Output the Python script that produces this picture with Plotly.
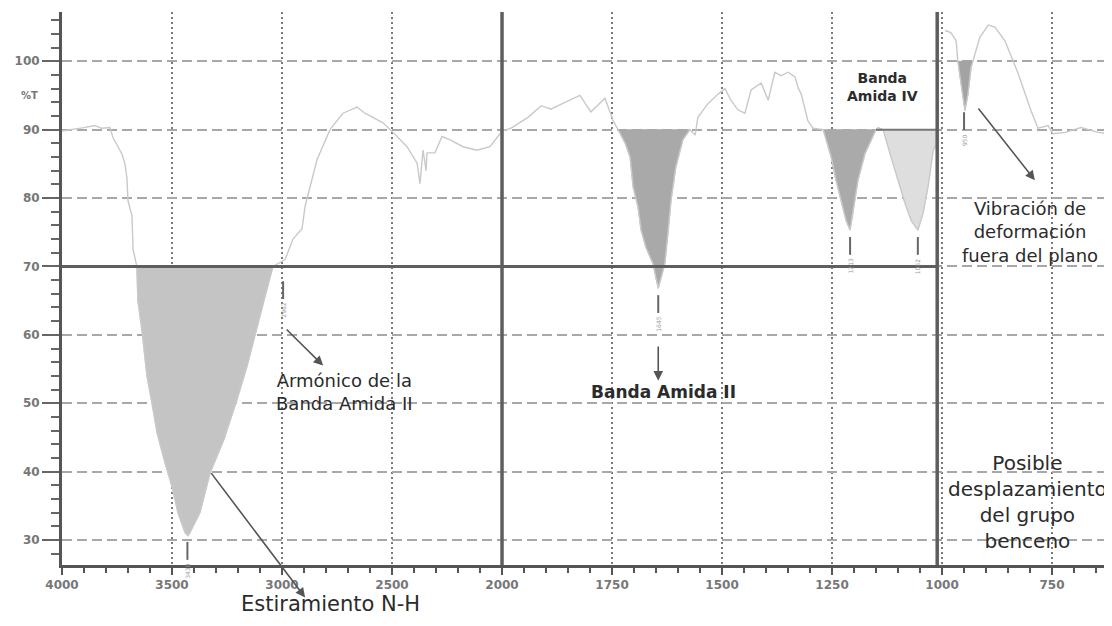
import numpy as np
import plotly.graph_objects as go

# ---------------- data ----------------
wavenumber = [4000, 3950, 3900, 3850, 3820, 3782, 3768, 3727, 3714, 3705, 3700, 3682, 3677, 3660,
              3655, 3636, 3614, 3591, 3568, 3532, 3500, 3473, 3441, 3427, 3418, 3373, 3327, 3264,
              3205, 3159, 3114, 3082, 3041,
              2986, 2950, 2909, 2895, 2841, 2782, 2723, 2659, 2623, 2541, 2495, 2432, 2386, 2373,
              2359, 2345, 2341, 2305, 2273, 2236, 2177, 2114, 2055, 2009, 2000,
              1980, 1941, 1911, 1889, 1857, 1834, 1823, 1798, 1766, 1748, 1736,
              1720, 1709, 1702, 1691, 1684, 1673, 1657, 1645, 1630, 1623, 1616, 1605, 1589, 1573,
              1561, 1555, 1532, 1509, 1493, 1480, 1464, 1448, 1434, 1411, 1395, 1380, 1366, 1350,
              1334, 1327, 1320, 1305, 1293, 1270,
              1252, 1241, 1230, 1218, 1209, 1202, 1191, 1175, 1150, 1145, 1134,
              1116, 1100, 1084, 1070, 1055, 1043, 1032, 1020, 1011, 1005,
              993, 980, 968, 964, 959, 952, 948, 941, 934, 930, 914, 895, 880, 857, 827, 798,
              782, 759, 748, 720, 684, 645, 618]
transmittance = [89.8, 90.0, 90.3, 90.6, 90.2, 90.3, 88.8, 86.4, 85.0, 83.0, 79.6, 77.4, 72.5, 70.0,
                 65.0, 60.5, 54.0, 50.0, 45.7, 41.3, 37.8, 34.0, 31.1, 30.6, 31.1, 34.0, 39.8, 44.7,
                 50.5, 55.4, 61.2, 65.0, 70.0,
                 71.0, 74.0, 75.5, 78.8, 85.6, 90.0, 92.4, 93.3, 92.4, 91.0, 89.6, 87.5, 85.1, 82.1,
                 87.0, 84.0, 86.6, 86.6, 89.0, 88.5, 87.5, 87.0, 87.5, 89.4, 89.8,
                 90.2, 91.8, 93.5, 93.0, 94.0, 94.7, 95.0, 92.6, 94.6, 91.4, 90.0,
                 88.0, 86.0, 81.6, 78.7, 75.3, 72.8, 70.4, 66.8, 70.4, 74.8, 79.6, 84.5, 88.5, 90.0,
                 89.2, 91.8, 93.8, 95.2, 96.0, 94.3, 92.9, 92.4, 95.8, 96.8, 94.3, 98.4, 97.9, 98.4,
                 97.7, 96.1, 95.2, 91.3, 90.2, 90.0,
                 86.0, 82.6, 79.6, 76.7, 75.3, 78.2, 82.6, 86.5, 90.0, 90.3, 90.0,
                 86.0, 82.6, 79.2, 76.7, 75.3, 77.8, 81.6, 87.0, 88.0, None,
                 104.5, 104.2, 103.0, 100.0, 97.7, 94.3, 92.8, 95.2, 99.1, 100.0, 103.5, 105.3, 105.0,
                 103.0, 98.2, 92.8, 90.2, 90.6, 89.4, 89.6, 90.3, 89.6, 89.4]

# shaded bands: wavenumber limits and reference level
band_hi = [3660, 1736, 1270, 1134, 964]
band_lo = [3041, 1573, 1150, 1011, 930]
band_base = [70, 90, 90, 90, 100]
band_color = ["#c4c4c4", "#a9a9a9", "#aaaaaa", "#dedede", "#a3a3a3"]

# labelled peaks
peak_w = [3430, 2995, 1645, 1209, 1055, 950]
peak_text = ["3430", "2962", "1645", "1213", "1052", "950"]

major_w = [4000, 3500, 3000, 2500, 2000, 1750, 1500, 1250, 1000, 750]
y_ticks = [30, 40, 50, 60, 70, 80, 90, 100]


# two-scale IR axis: 4000-2000 (500/unit), 2000-... (250/unit)
def pos(w):
    w = np.asarray(w, dtype=float)
    return np.where(w >= 2000, (4000 - w) / 500.0, 4 + (2000 - w) / 250.0)


w_arr = np.array(wavenumber, dtype=float)
t_arr = np.array([np.nan if v is None else v for v in transmittance])

fig = go.Figure()

# fills
for lo, hi, base, col in zip(band_lo, band_hi, band_base, band_color):
    m = (w_arr <= hi) & (w_arr >= lo) & ~np.isnan(t_arr)
    xs = list(pos(w_arr[m]))
    ys = list(np.minimum(t_arr[m], base))
    fig.add_trace(go.Scatter(x=xs + [xs[-1], xs[0]], y=ys + [base, base], fill="toself",
                             fillcolor=col, line=dict(width=0.8, color=col), mode="lines",
                             hoverinfo="skip", showlegend=False))

# spectrum
fig.add_trace(go.Scatter(x=pos(w_arr), y=[None if np.isnan(v) else v for v in t_arr],
                         mode="lines", line=dict(color="#c9c9c9", width=1.4),
                         connectgaps=False, showlegend=False))

shapes = []
# reference lines
x_split = float(pos(1011))
shapes.append(dict(type="line", xref="x", yref="y", x0=0, x1=x_split, y0=70, y1=70,
                   line=dict(color="#5e5e5e", width=3)))
shapes.append(dict(type="line", xref="x", yref="y", x0=float(pos(1150)), x1=x_split, y0=90, y1=90,
                   line=dict(color="#777777", width=2)))
for xv in [float(pos(2000)), x_split]:
    shapes.append(dict(type="line", xref="x", yref="y domain", x0=xv, x1=xv, y0=0, y1=1,
                       line=dict(color="#5e5e5e", width=3.5)))

annotations = []
# peak markers derived from spectrum
valid = ~np.isnan(t_arr)
for pw, ptxt in zip(peak_w, peak_text):
    yv = float(np.interp(-pw, -w_arr[valid], t_arr[valid]))
    xv = float(pos(pw))
    top = yv - 1.0 - (2.0 if pw == 2995 else 0)
    shapes.append(dict(type="line", xref="x", yref="y", x0=xv, x1=xv, y0=top, y1=top - 2.6,
                       line=dict(color="#666666", width=2)))
    annotations.append(dict(x=xv, y=top - 2.9, xref="x", yref="y", text=ptxt, showarrow=False,
                            textangle=-90, yanchor="top", xanchor="center",
                            font=dict(size=6, color="#999999", family="DejaVu Sans")))

txt_font = dict(family="DejaVu Sans", color="#2b2b2b")


def arrow(w0, y0, w1, y1):
    annotations.append(dict(x=float(pos(w1)), y=y1, ax=float(pos(w0)), ay=y0, xref="x", yref="y",
                            axref="x", ayref="y", text="", showarrow=True, arrowhead=2,
                            arrowsize=1.2, arrowwidth=1.6, arrowcolor="#555555"))


def label(w, y, text, size, bold=False, yref="y"):
    f = dict(txt_font, size=size)
    if bold:
        f["weight"] = "bold"
    annotations.append(dict(x=float(pos(w)), y=y, xref="x", yref=yref, text=text, showarrow=False,
                            xanchor="center", yanchor="middle", font=f, align="center"))


arrow(3327, 40, 2895, 21.6)
label(2780, -0.071, "Estiramiento N-H", 21, yref="paper")
arrow(2986, 61, 2813, 55.5)
label(2718, 51.6, "Armónico de la<br>Banda Amida II", 18)
arrow(1645, 58.5, 1645, 53.3)
label(1634, 51.6, "Banda Amida II", 17, bold=True)
label(1136, 96.2, "Banda<br>Amida IV", 14, bold=True)
arrow(920, 93.3, 789, 82.6)
label(800, 75.0, "Vibración de<br>deformación<br>fuera del plano", 18)
label(805, 35.6, "Posible<br>desplazamiento<br>del grupo<br>benceno", 20)
annotations.append(dict(x=-0.031, y=95, xref="paper", yref="y", text="%T", showarrow=False,
                        xanchor="center", font=dict(size=10, color="#777777", family="DejaVu Sans",
                                                    weight="bold")))

tick_font = dict(family="DejaVu Sans", size=12, color="#777777", weight="bold")

fig.update_layout(
    width=1104, height=618,
    margin=dict(l=54, r=0, t=4, b=61, autoexpand=False),
    plot_bgcolor="white", paper_bgcolor="white",
    showlegend=False,
    shapes=shapes, annotations=annotations,
    xaxis=dict(range=[0, 9.545], tickmode="array", tickvals=list(pos(major_w)),
               ticktext=[str(v) for v in major_w], tickfont=tick_font,
               showline=True, linecolor="#555555", linewidth=3,
               ticks="outside", ticklen=7, tickwidth=2, tickcolor="#555555",
               showgrid=True, gridcolor="#7a7a7a", gridwidth=2, griddash="2px,3px",
               zeroline=False, automargin=False,
               minor=dict(dtick=0.2, tick0=0, ticks="outside", ticklen=5, tickwidth=2,
                          tickcolor="#555555", showgrid=False)),
    yaxis=dict(range=[26.35, 107.2], tickmode="array", tickvals=y_ticks, tickfont=tick_font,
               showline=True, linecolor="#555555", linewidth=3,
               ticks="outside", ticklen=17, tickwidth=2, tickcolor="#666666",
               showgrid=True, gridcolor="#a8a8a8", gridwidth=1.5, griddash="10px,5px",
               zeroline=False, automargin=False,
               minor=dict(dtick=2, tick0=0, ticks="outside", ticklen=8, tickwidth=2,
                          tickcolor="#666666", showgrid=False)),
)

fig.write_html("out.html")
